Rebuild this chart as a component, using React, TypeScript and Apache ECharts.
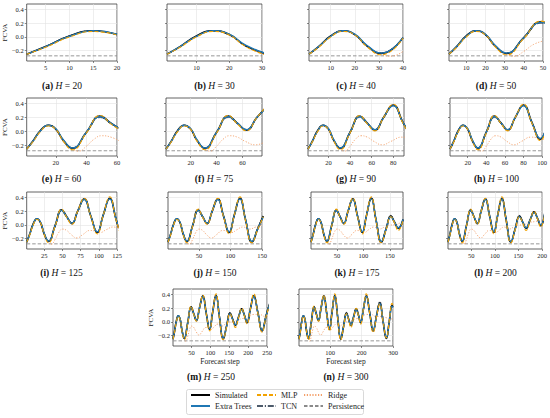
import React, { useEffect, useRef } from 'react';
import * as echarts from 'echarts';

// ---------- data ----------
const horizons = [20, 30, 40, 50, 60, 75, 90, 100, 125, 150, 175, 200, 250, 300];
const panelLetters = ['a', 'b', 'c', 'd', 'e', 'f', 'g', 'h', 'i', 'j', 'k', 'l', 'm', 'n'];
const xTickValues = [
  [5, 10, 15, 20],
  [10, 20, 30],
  [10, 20, 30, 40],
  [10, 20, 30, 40, 50],
  [20, 40, 60],
  [20, 40, 60],
  [20, 40, 60, 80],
  [20, 40, 60, 80, 100],
  [25, 50, 75, 100, 125],
  [50, 100, 150],
  [50, 100, 150],
  [50, 100, 150, 200],
  [50, 100, 150, 200, 250],
  [100, 200, 300],
];
const yTickValues = [-0.2, 0, 0.2, 0.4];

const steps = [1, 5, 10, 15, 20, 25, 31, 40, 49, 56, 63, 71, 80, 89, 98, 106, 115, 124, 134, 143, 152, 159, 166, 175, 183, 190, 197, 206, 215, 226, 237, 248, 258, 268, 279, 288, 297, 300];
const simulated = [-0.25, -0.14, 0.015, 0.09, 0.035, -0.13, -0.24, -0.01, 0.22, 0.12, 0.02, 0.2, 0.38, 0.13, -0.11, 0.14, 0.39, 0.07, -0.25, -0.06, 0.13, 0.04, -0.05, 0.08, 0.19, 0.1, -0.01, 0.19, 0.38, 0.13, -0.13, 0.1, 0.28, 0.02, -0.24, 0.0, 0.24, 0.22];
const extraTrees = [-0.25, -0.14, 0.01, 0.09, 0.04, -0.12, -0.235, -0.01, 0.215, 0.12, 0.025, 0.2, 0.37, 0.13, -0.1, 0.14, 0.38, 0.08, -0.24, -0.06, 0.12, 0.04, -0.04, 0.08, 0.18, 0.1, 0.0, 0.19, 0.37, 0.13, -0.12, 0.1, 0.27, 0.03, -0.23, 0.0, 0.23, 0.21];
const mlp = [-0.25, -0.15, 0.0, 0.08, 0.03, -0.14, -0.26, -0.02, 0.23, 0.11, 0.01, 0.2, 0.39, 0.12, -0.13, 0.14, 0.41, 0.06, -0.26, -0.07, 0.12, 0.03, -0.08, 0.07, 0.2, 0.09, -0.03, 0.19, 0.41, 0.12, -0.15, 0.09, 0.26, 0.02, -0.23, 0.01, 0.27, 0.25];
const tcn = [-0.25, -0.14, 0.015, 0.09, 0.03, -0.13, -0.23, -0.02, 0.2, 0.11, 0.03, 0.19, 0.37, 0.13, -0.1, 0.14, 0.38, 0.08, -0.24, -0.05, 0.14, 0.05, -0.04, 0.08, 0.19, 0.1, 0.0, 0.19, 0.38, 0.14, -0.12, 0.11, 0.3, 0.03, -0.23, 0.01, 0.25, 0.23];
const ridgeSteps = [1, 5, 10, 15, 20, 25, 31, 35, 40, 45, 50, 56, 62, 70, 78, 88, 95, 102, 110, 120, 130, 140, 150, 160, 170, 185, 200, 215, 230, 245, 260, 280, 300];
const ridge = [-0.25, -0.14, 0.015, 0.09, 0.035, -0.13, -0.25, -0.28, -0.21, -0.11, -0.06, -0.08, -0.14, -0.19, -0.14, -0.08, -0.09, -0.11, -0.07, -0.03, -0.06, -0.03, 0.0, 0.0, 0.03, 0.05, 0.07, 0.11, 0.11, 0.08, 0.08, 0.06, 0.04];
const persistenceLevel = -0.275;

// drawing order (bottom to top)
const drawOrder = ['Persistence', 'Ridge', 'TCN', 'Simulated', 'Extra Trees', 'MLP'];

// ---------- layout & style ----------
const FONT = '"Liberation Serif", "Times New Roman", Times, serif';
const panelBoxes = [
  [25, 4, 92, 57], [167, 4, 95, 57], [309, 4, 94, 57], [449, 4, 94, 57],
  [24, 98, 93, 58], [166, 98, 96, 58], [308, 98, 96, 58], [450, 98, 93, 58],
  [24, 192, 93, 57], [168, 192, 94, 57], [311, 192, 92, 57], [448, 192, 95, 57],
  [173, 289, 94, 57], [299, 289, 94, 57],
];
const captionY = [86, 86, 86, 86, 179, 179, 179, 179, 273, 273, 273, 273, 377, 377];
const firstColumn = [0, 4, 8, 12];

const lineStyles: Record<string, any> = {
  Simulated: { color: '#000000', width: 1.6, type: 'solid' },
  'Extra Trees': { color: '#1f77b4', width: 1.4, type: 'solid' },
  MLP: { color: '#f2a200', width: 1.1, type: [4, 2] },
  TCN: { color: '#4d5b6b', width: 1.0, type: [6, 1.8, 1.2, 1.8] },
  Ridge: { color: '#f4a06a', width: 0.9, type: [1.2, 1.6] },
  Persistence: { color: '#8a8a8a', width: 0.9, type: [3.5, 2] },
};

function upTo(xs: number[], ys: number[], H: number) {
  const out: number[][] = [];
  for (let i = 0; i < xs.length; i++) {
    out.push([xs[i], ys[i]]);
    if (xs[i] >= H) break;
  }
  return out;
}

function fmtY(v: number) {
  const s = Math.abs(v).toFixed(1);
  return v < -1e-9 ? '\u2212' + s : s;
}

function buildOption() {
  const grid = panelBoxes.map(([l, t, w, h]) => ({
    left: l, top: t, width: w, height: h,
    show: true, borderColor: '#3c3c3c', borderWidth: 0.8, backgroundColor: 'transparent',
  }));
  const tickLine = { color: '#3c3c3c', width: 0.6 };
  const gridLine = { color: '#e3e3e3', width: 0.6 };
  const xAxis = horizons.map((H, i) => ({
    type: 'value', gridIndex: i, min: 1, max: H,
    name: i >= 12 ? 'Forecast step' : '',
    nameLocation: 'middle', nameGap: 11,
    nameTextStyle: { fontFamily: FONT, fontSize: 7.5, color: '#222' },
    axisLine: { show: false, onZero: false },
    axisTick: { show: true, length: 2, customValues: xTickValues[i], lineStyle: tickLine },
    axisLabel: { show: true, customValues: xTickValues[i], fontFamily: FONT, fontSize: 6.5, color: '#222', margin: 3 },
    splitLine: { show: true, lineStyle: gridLine },
  }));
  const yAxis = horizons.map((H, i) => {
    const first = firstColumn.includes(i);
    return {
      type: 'value', gridIndex: i, min: -0.35, max: 0.48,
      name: first ? 'FCVA' : '',
      nameLocation: 'middle', nameGap: 14,
      nameTextStyle: { fontFamily: FONT, fontSize: 7, color: '#222' },
      axisLine: { show: false, onZero: false },
      axisTick: { show: true, length: 2, customValues: yTickValues, lineStyle: tickLine },
      axisLabel: { show: first, customValues: yTickValues, formatter: fmtY, fontFamily: FONT, fontSize: 6.5, color: '#222', margin: 3 },
      splitLine: { show: true, lineStyle: gridLine },
    };
  });

  const series: any[] = [];
  horizons.forEach((H, i) => {
    const dataFor: Record<string, number[][]> = {
      Simulated: upTo(steps, simulated, H),
      'Extra Trees': upTo(steps, extraTrees, H),
      MLP: upTo(steps, mlp, H),
      TCN: upTo(steps, tcn, H),
      Ridge: upTo(ridgeSteps, ridge, H),
      Persistence: [[1, persistenceLevel], [H, persistenceLevel]],
    };
    drawOrder.forEach((name) => {
      const ls = lineStyles[name];
      series.push({
        type: 'line', name, xAxisIndex: i, yAxisIndex: i,
        data: dataFor[name],
        smooth: name === 'Persistence' ? false : 0.5,
        symbol: 'none', showSymbol: false, silent: true, clip: true,
        color: ls.color,
        itemStyle: { color: ls.color },
        lineStyle: { color: ls.color, width: ls.width, type: ls.type },
      });
    });
  });

  const legendCols = [190, 256, 303];
  const legendTops = [391, 402];
  const legendPlaces: [string, number, number][] = [
    ['Simulated', 0, 0], ['Extra Trees', 0, 1], ['MLP', 1, 0], ['TCN', 1, 1], ['Ridge', 2, 0], ['Persistence', 2, 1],
  ];
  const legend = legendPlaces.map(([name, c, r]) => ({
    data: [name], left: legendCols[c], top: legendTops[r],
    itemWidth: 19, itemHeight: 9, padding: 0, selectedMode: false,
    itemStyle: { opacity: 0, borderWidth: 0 },
    textStyle: { fontFamily: FONT, fontSize: 8, color: '#222' },
  }));

  const captionRich = {
    b: { fontFamily: FONT, fontSize: 9.5, fontWeight: 'bold', fontStyle: 'normal', fill: '#111', color: '#111' },
    i: { fontFamily: FONT, fontSize: 9.5, fontWeight: 'normal', fontStyle: 'italic', fill: '#111', color: '#111' },
    n: { fontFamily: FONT, fontSize: 9.5, fontWeight: 'normal', fontStyle: 'normal', fill: '#111', color: '#111' },
  };
  const captions = horizons.map((H, i) => {
    const [l, , w] = panelBoxes[i];
    const shift = firstColumn.includes(i) ? -9 : 0;
    return {
      type: 'text', x: l + w / 2 + shift, y: captionY[i], silent: true,
      style: {
        text: `{b|(${panelLetters[i]})}{n| }{i|H}{n| = ${H}}`,
        rich: captionRich,
        fontFamily: FONT, fontSize: 9.5, fontWeight: 'normal', fill: '#111',
        align: 'center', textAlign: 'center', verticalAlign: 'middle', textVerticalAlign: 'middle',
      },
    };
  });

  return {
    animation: false,
    backgroundColor: '#ffffff',
    grid, xAxis, yAxis, series, legend,
    graphic: [
      ...captions,
      { type: 'rect', silent: true, shape: { x: 186.5, y: 389.5, width: 177, height: 25, r: 2 }, style: { fill: 'none', stroke: '#cfcfcf', lineWidth: 0.8 } },
    ],
  };
}

export default function App() {
  const ref = useRef<HTMLDivElement>(null);
  useEffect(() => {
    const chart = echarts.init(ref.current as HTMLDivElement, null, { renderer: 'svg' });
    chart.setOption(buildOption() as any);
    return () => chart.dispose();
  }, []);
  return (
    <div
      ref={ref}
      style={{ position: 'fixed', left: 0, top: 0, width: 550, height: 418, background: '#fff' }}
    />
  );
}
